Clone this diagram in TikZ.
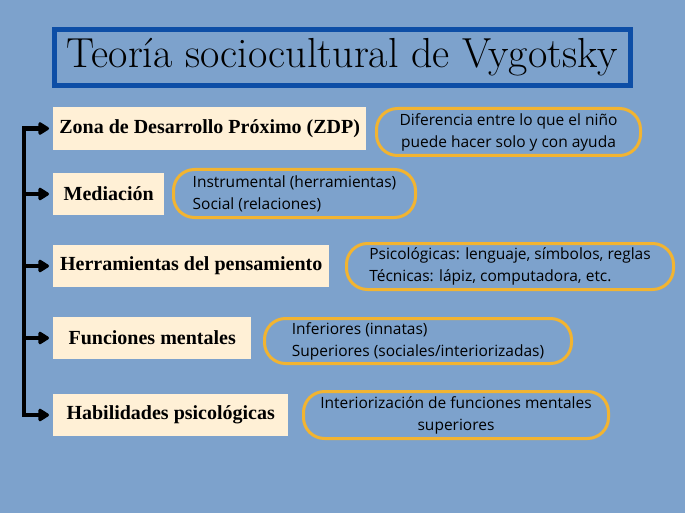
\documentclass[tikz,border=0pt]{standalone}
\usepackage{fontspec}
\usepackage{tikz}
\usetikzlibrary{arrows.meta}
\newfontfamily\labelfont{Liberation Serif}
\newfontfamily\notefont{Open Sans}
\definecolor{bg}{HTML}{7DA2CC}
\definecolor{cream}{HTML}{FFF0D6}
\definecolor{gold}{HTML}{F2B431}
\definecolor{navy}{HTML}{0D4EA6}

\begin{document}
\begin{tikzpicture}[x=1pt,y=-1pt,
    topic/.style={fill=cream,anchor=west,minimum height=42pt,inner sep=0pt,
        font=\labelfont\bfseries\fontsize{20}{23}\selectfont},
    note/.style={draw=gold,line width=3pt,rounded corners=21pt,minimum height=47pt,
        inner sep=0pt,align=left,font=\notefont\fontsize{15.5}{22}\selectfont},
    conn/.style={line width=4.5pt,-{Triangle[length=12pt,width=14pt,round]},shorten >=4pt}]
    \fill[bg] (0,0) rectangle (685,513);
    \useasboundingbox (0,0) rectangle (685,513);
    \node[draw=navy,line width=5pt,minimum width=576pt,minimum height=56pt,inner sep=0pt,
        font=\fontsize{42}{46}\selectfont] (title) at (342.5,57.5) {Teoría sociocultural de Vygotsky};
    \node[topic,minimum width=313pt,minimum height=43pt] (zdp) at (53,128.5) {Zona de Desarrollo Próximo (ZDP)};
    \node[topic,minimum width=111pt] (med) at (53,194) {Mediación};
    \node[topic,minimum width=276pt] (her) at (53,266) {Herramientas del pensamiento};
    \node[topic,minimum width=198pt] (fun) at (53,338) {Funciones mentales};
    \node[topic,minimum width=235pt] (hab) at (53,415) {Habilidades psicológicas};
    \node[note,align=center,minimum width=264pt] (zdpd) at (508.5,132) {Diferencia entre lo que el niño\\puede hacer solo y con ayuda};
    \node[note,minimum width=242pt,minimum height=48pt] (medd) at (294.5,193.5) {Instrumental (herramientas)\\Social (relaciones)};
    \node[note,minimum width=327pt,minimum height=46pt] (herd) at (510,266.5) {Psicológicas: lenguaje, símbolos, reglas\\Técnicas: lápiz, computadora, etc.};
    \node[note,minimum width=307pt,minimum height=45pt] (fund) at (418,341) {Inferiores (innatas)\\Superiores (sociales/interiorizadas)};
    \node[note,align=center,minimum width=305pt] (habd) at (456,415) {Interiorización de funciones mentales\\superiores};
    \coordinate (bot) at (24,415);
    \draw[conn] (bot) |- (zdp.west);
    \draw[conn] (bot |- zdp.west) |- (hab.west);
    \draw[conn] (bot |- med.west) -- (med.west);
    \draw[conn] (bot |- her.west) -- (her.west);
    \draw[conn] (bot |- fun.west) -- (fun.west);
\end{tikzpicture}
\end{document}
